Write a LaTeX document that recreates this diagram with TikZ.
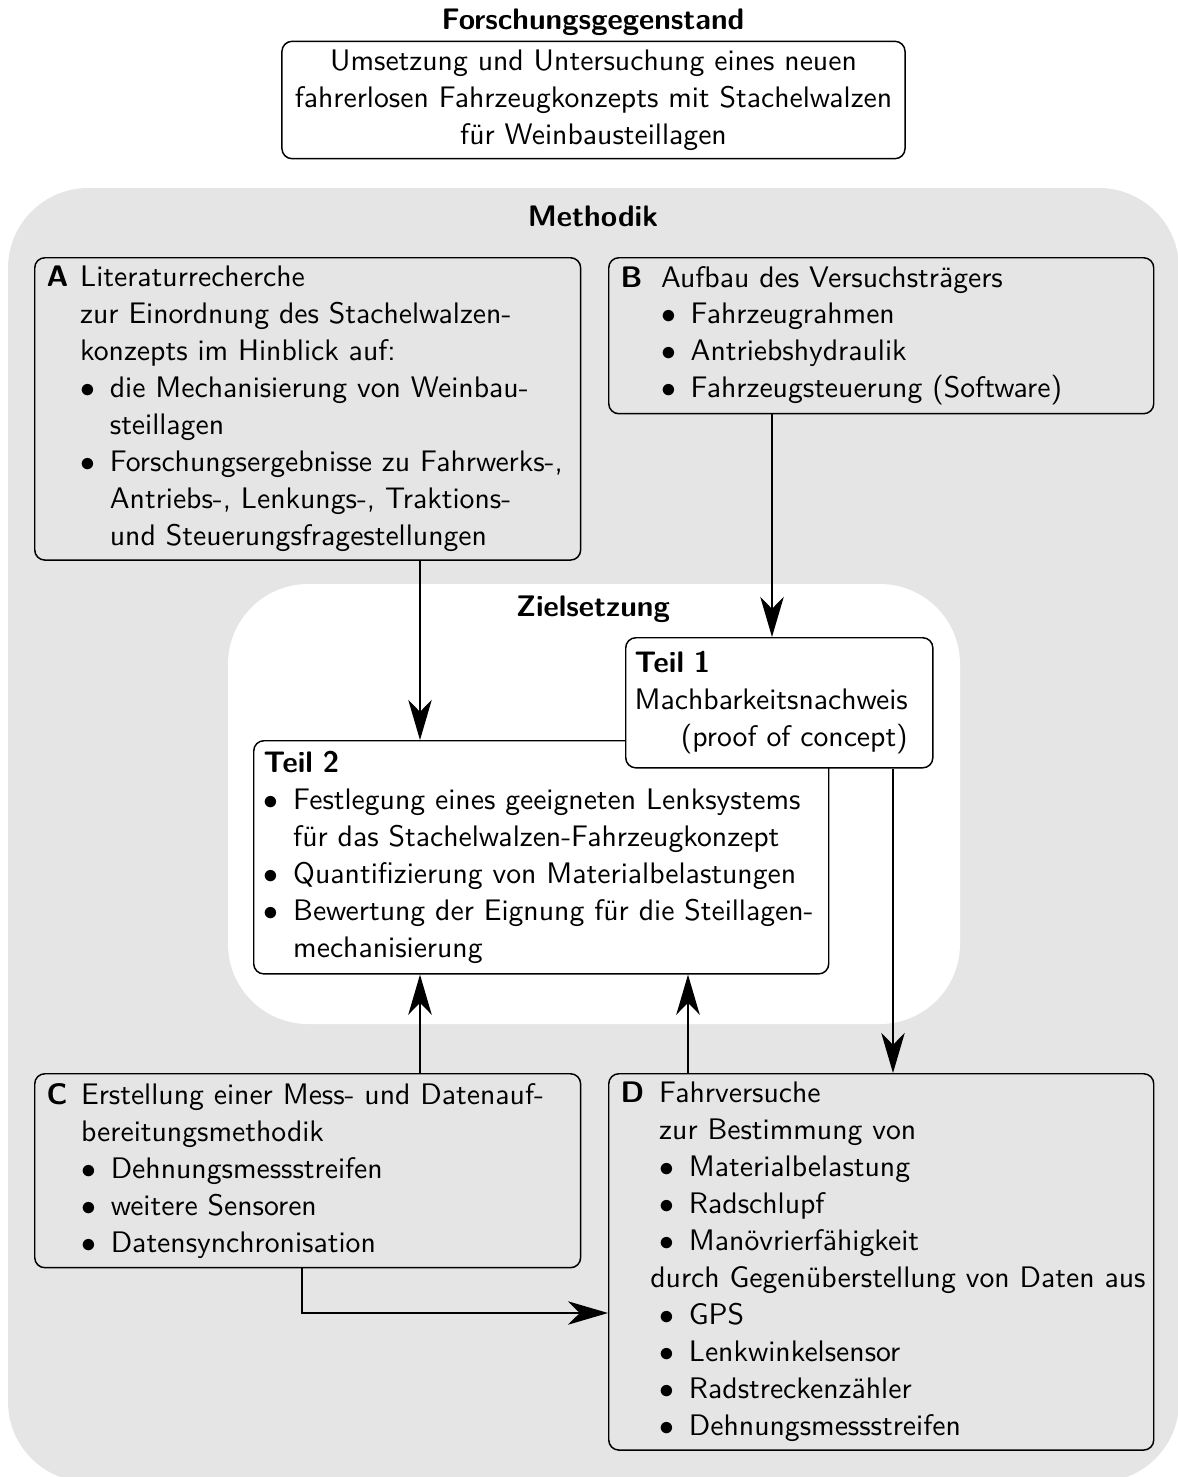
\documentclass[tikz,border=0pt]{standalone}
\usepackage{tikz}
\usetikzlibrary{arrows.meta}
\usetikzlibrary{positioning}
\renewcommand{\familydefault}{\sfdefault}
\linespread{1.038}
\newlength{\einzug}
\setlength{\einzug}{12pt}
\newcommand{\lbl}[1]{\makebox[\einzug][l]{\bfseries #1}}
\newcommand{\ein}{\hspace*{\einzug}}
\newcommand{\itm}{\makebox[10pt][l]{$\bullet$}}
\newcommand{\weiter}{\hspace*{10pt}}

\begin{document}
\begin{tikzpicture}[x=0.3367pt,y=-0.3367pt,
    kasten/.style={draw, line width=0.5pt, rounded corners=3.4pt, align=left,
                   anchor=north west, inner xsep=4pt, inner ysep=2.8pt},
    teil/.style={kasten, fill=white, inner xsep=3.3pt, inner ysep=3.5pt},
    einrueck/.style={execute at begin node={\setlength{\einzug}{#1}}},
    flaeche/.style={rounded corners=27pt},
    pfeil/.style={line width=0.5pt, -{Stealth[length=13.5pt,width=7.9pt,inset=4pt]}}]
  \useasboundingbox (0,0) rectangle (1177,1477);
  \fill[flaeche, gray!20] (8,188) rectangle (1179,1482);
  \fill[flaeche, white] (228,584) rectangle (960,1024);

  \node[font=\bfseries] (fgtitel) at (593,22) {Forschungsgegenstand};
  \node[kasten, anchor=center, align=center, text width=203pt, inner xsep=3.4pt,
        minimum height=38.4pt] (fg) at (593.5,100)
    {Umsetzung und Untersuchung eines neuen\\
     fahrerlosen Fahrzeugkonzepts mit Stachelwalzen\\
     für Weinbausteillagen};

  \node[font=\bfseries] (methodik) at (593,216) {Methodik};
  \node[kasten, einrueck=11.3pt, text width=175.8pt, minimum height=101.3pt] (litA) at (34,257)
    {\lbl{A}Literaturrecherche\\
     \ein zur Einordnung des Stachelwalzen-\\
     \ein konzepts im Hinblick auf:\\
     \ein\itm die Mechanisierung von Weinbau-\\
     \ein\weiter steillagen\\
     \ein\itm Forschungsergebnisse zu Fahrwerks-,\\
     \ein\weiter Antriebs-, Lenkungs-, Traktions-\\
     \ein\weiter und Steuerungsfragestellungen};
  \node[kasten, einrueck=13.6pt, text width=175.5pt, minimum height=52.5pt] (aufbauB) at (608,257)
    {\lbl{B}Aufbau des Versuchsträgers\\
     \ein\itm Fahrzeugrahmen\\
     \ein\itm Antriebshydraulik\\
     \ein\itm Fahrzeugsteuerung (Software)};

  \node[font=\bfseries] (ziel) at (593,609) {Zielsetzung};
  \node[teil, text width=187pt, minimum height=78.4pt] (teilzwei) at (253,740)
    {\textbf{Teil 2}\\
     \itm Festlegung eines geeigneten Lenksystems\\
     \weiter für das Stachelwalzen-Fahrzeugkonzept\\
     \itm Quantifizierung von Materialbelastungen\\
     \itm Bewertung der Eignung für die Steillagen-\\
     \weiter mechanisierung};
  \node[teil, inner xsep=3pt, text width=97.4pt, minimum height=43.8pt] (teileins) at (625,637)
    {\textbf{Teil 1}\\
     Machbarkeitsnachweis\\
     \phantom{Machbarkeitsnachweis}\llap{(proof of concept)}};

  \node[kasten, einrueck=11.6pt, text width=175.8pt, minimum height=65.3pt] (messC) at (34,1073)
    {\lbl{C}Erstellung einer Mess- und Datenauf-\\
     \ein bereitungsmethodik\\
     \ein\itm Dehnungsmessstreifen\\
     \ein\itm weitere Sensoren\\
     \ein\itm Datensynchronisation};
  \node[kasten, einrueck=13pt, text width=175.5pt, minimum height=126.3pt] (fahrD) at (608,1073)
    {\lbl{D}Fahrversuche\\
     \ein zur Bestimmung von\\
     \ein\itm Materialbelastung\\
     \ein\itm Radschlupf\\
     \ein\itm Manövrierfähigkeit\\
     \hspace*{10pt}\mbox{durch Gegenüberstellung von Daten aus}\\
     \ein\itm GPS\\
     \ein\itm Lenkwinkelsensor\\
     \ein\itm Radstreckenzähler\\
     \ein\itm Dehnungsmessstreifen};

  \coordinate (xa) at (420,0);
  \coordinate (xb) at (772,0);
  \coordinate (xd) at (893,0);
  \coordinate (xe) at (688,0);
  \coordinate (xc) at (302,0);
  \coordinate (yc) at (0,1313);
  \draw[pfeil] (litA.south -| xa) -- (teilzwei.north -| xa);
  \draw[pfeil] (aufbauB.south -| xb) -- (teileins.north -| xb);
  \draw[pfeil] (teileins.south -| xd) -- (fahrD.north -| xd);
  \draw[pfeil] (messC.north -| xa) -- (teilzwei.south -| xa);
  \draw[pfeil] (fahrD.north -| xe) -- (teilzwei.south -| xe);
  \draw[pfeil] (messC.south -| xc) |- (fahrD.west |- yc);
\end{tikzpicture}
\end{document}
